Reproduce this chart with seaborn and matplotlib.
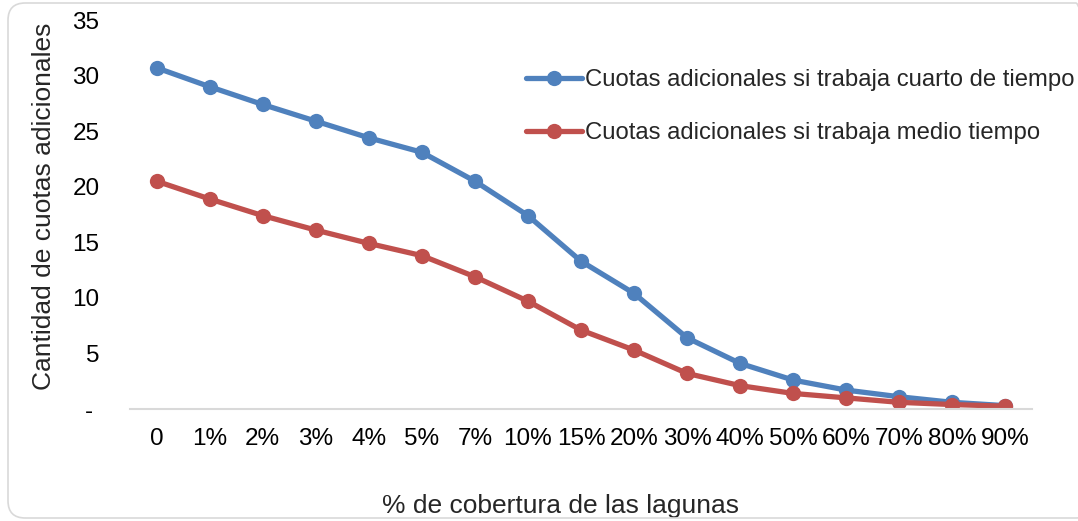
import pandas as pd
import matplotlib.pyplot as plt
import seaborn as sns
from matplotlib.patches import FancyBboxPatch

# data
cobertura = ["0", "1%", "2%", "3%", "4%", "5%", "7%", "10%", "15%", "20%",
             "30%", "40%", "50%", "60%", "70%", "80%", "90%"]
cuarto_tiempo = [30.7, 29.0, 27.4, 25.9, 24.4, 23.1, 20.5, 17.4, 13.3, 10.4,
                 6.4, 4.1, 2.6, 1.7, 1.1, 0.6, 0.3]
medio_tiempo = [20.5, 18.9, 17.4, 16.1, 14.9, 13.8, 11.9, 9.7, 7.1, 5.3,
                3.2, 2.1, 1.4, 1.0, 0.6, 0.4, 0.25]
serie_names = ["Cuotas adicionales si trabaja cuarto de tiempo",
               "Cuotas adicionales si trabaja medio tiempo"]

df = pd.DataFrame({
    "cobertura": cobertura * 2,
    "cuotas": cuarto_tiempo + medio_tiempo,
    "serie": [serie_names[0]] * len(cobertura) + [serie_names[1]] * len(cobertura),
})

sns.set_style("white")
plt.rcParams["font.family"] = ["Liberation Sans", "DejaVu Sans"]

fig = plt.figure(figsize=(10.78, 5.21), dpi=100)
ax = fig.add_axes([130 / 1078, 1 - 409 / 521, 902 / 1078, 389 / 521])

sns.lineplot(data=df, x="cobertura", y="cuotas", hue="serie", sort=False,
             palette=["#4F81BD", "#C0504D"], marker="o", markersize=11,
             markeredgewidth=0, linewidth=3.8, ax=ax)

ax.set_xlim(-0.5, len(cobertura) - 0.5)
ax.set_ylim(0, 35)
ax.set_yticks(range(0, 36, 5))
ax.set_yticklabels(["- "] + [str(v) for v in range(5, 36, 5)])
ax.tick_params(axis="both", length=0, labelsize=17.5, colors="black")
ax.tick_params(axis="x", pad=14)
ax.tick_params(axis="y", pad=22)

for side in ["top", "right", "left"]:
    ax.spines[side].set_visible(False)
ax.spines["bottom"].set_color("#D9D9D9")
ax.spines["bottom"].set_linewidth(1.5)

ax.set_xlabel("% de cobertura de las lagunas", fontsize=19)
ax.xaxis.set_label_coords(430 / 902, -85 / 389)
ax.set_ylabel("Cantidad de cuotas adicionales", fontsize=19)
ax.yaxis.set_label_coords(-74 / 902, 0.52)

handles, labels = ax.get_legend_handles_labels()
ax.legend(handles, labels, loc="upper left", bbox_to_anchor=(526 / 1078, 1 - 69 / 521),
          bbox_transform=fig.transFigure, frameon=False, fontsize=17.2,
          handlelength=2.35, handletextpad=0.1, labelspacing=1.3, borderaxespad=0,
          borderpad=0)

# rounded chart border
border = FancyBboxPatch((8 / 1078, 3 / 521), 1085 / 1078, 515 / 521,
                        boxstyle="round,pad=0,rounding_size=0.016",
                        transform=fig.transFigure, facecolor="none",
                        edgecolor="#D9D9D9", linewidth=1.2, mutation_aspect=1078 / 521)
fig.patches.append(border)

fig.savefig("out.png", dpi=100)
plt.close("all")
